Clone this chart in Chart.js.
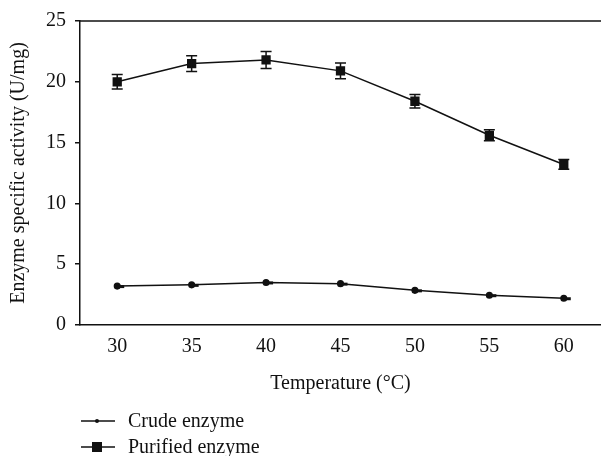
<!DOCTYPE html>
<html>
<head>
<meta charset="utf-8">
<script src="https://cdn.jsdelivr.net/npm/chart.js@4/dist/chart.umd.min.js"></script>
<style>
  html, body { margin: 0; padding: 0; background: #fff; }
  #wrap { width: 601px; height: 456px; }
</style>
</head>
<body>
<div id="wrap"><canvas id="c" width="601" height="456"></canvas></div>
<script>
/* ── data ── */
const temps       = [30, 35, 40, 45, 50, 55, 60];
const crude       = [3.2, 3.3, 3.5, 3.4, 2.85, 2.45, 2.2];
const purified    = [20.0, 21.5, 21.8, 20.9, 18.4, 15.6, 13.2];
const purifiedErr = [0.6, 0.65, 0.7, 0.65, 0.55, 0.45, 0.4];
const xTicks      = [30, 35, 40, 45, 50, 55, 60];
const yTicks      = [0, 5, 10, 15, 20, 25];

const FONT = '"Liberation Serif", "DejaVu Serif", serif';
const INK  = '#111';

Chart.defaults.font.family = FONT;
Chart.defaults.font.size   = 20;
Chart.defaults.color       = INK;

function pts(vals) {
  return temps.map((t, i) => ({ x: t, y: vals[i] }));
}

/* error bars, top frame line and the legend below the axis */
const extras = {
  id: 'extras',
  afterDatasetsDraw(chart) {
    const { ctx, scales: { x, y }, chartArea } = chart;
    ctx.save();
    ctx.strokeStyle = INK;
    ctx.fillStyle = INK;
    ctx.lineWidth = 1.5;
    // top frame line
    ctx.beginPath();
    ctx.moveTo(chartArea.left, chartArea.top);
    ctx.lineTo(chartArea.right, chartArea.top);
    ctx.stroke();
    // error bars on purified
    purified.forEach((v, i) => {
      const px = x.getPixelForValue(temps[i]);
      const hi = y.getPixelForValue(v + purifiedErr[i]);
      const lo = y.getPixelForValue(v - purifiedErr[i]);
      ctx.beginPath();
      ctx.moveTo(px, hi); ctx.lineTo(px, lo);
      ctx.moveTo(px - 5.5, hi); ctx.lineTo(px + 5.5, hi);
      ctx.moveTo(px - 5.5, lo); ctx.lineTo(px + 5.5, lo);
      ctx.stroke();
    });
    // crude points carry a small flat blob to the right of the dot
    crude.forEach((v, i) => {
      const px = x.getPixelForValue(temps[i]);
      const py = y.getPixelForValue(v);
      ctx.fillRect(px - 1, py - 1, 8, 3);
    });
    // legend
    ctx.font = '20px ' + FONT;
    ctx.textBaseline = 'middle';
    const rows = [['Crude enzyme', 'circle', 421], ['Purified enzyme', 'rect', 447]];
    rows.forEach(([label, shape, ly]) => {
      ctx.lineWidth = 1.3;
      ctx.beginPath();
      ctx.moveTo(81, ly); ctx.lineTo(115, ly);
      ctx.stroke();
      if (shape === 'circle') {
        ctx.beginPath(); ctx.arc(97, ly, 2, 0, Math.PI * 2); ctx.fill();
      } else {
        ctx.fillRect(92, ly - 5, 10, 10);
      }
      ctx.fillText(label, 128, ly + 1);
    });
    ctx.restore();
  }
};

new Chart(document.getElementById('c'), {
  type: 'line',
  data: {
    datasets: [
      {
        label: 'Crude enzyme',
        data: pts(crude),
        borderColor: INK,
        backgroundColor: INK,
        borderWidth: 1.5,
        pointStyle: 'circle',
        pointRadius: 2.8,
        tension: 0,
      },
      {
        label: 'Purified enzyme',
        data: pts(purified),
        borderColor: INK,
        backgroundColor: INK,
        borderWidth: 1.5,
        pointStyle: 'rect',
        pointRadius: 5.5,
        tension: 0,
      }
    ]
  },
  options: {
    responsive: false,
    animation: false,
    layout: { autoPadding: false, padding: { top: 21, left: 0, right: 0, bottom: 56 } },
    plugins: { legend: { display: false }, tooltip: { enabled: false } },
    scales: {
      x: {
        type: 'linear',
        min: 27.5, max: 62.5,
        afterBuildTicks: axis => { axis.ticks = xTicks.map(v => ({ value: v })); },
        afterFit: axis => { axis.height = 75; },
        grid: { display: false },
        border: { display: true, color: INK, width: 1.5 },
        ticks: { padding: 2, color: INK },
        title: { display: true, text: 'Temperature (°C)', color: INK },
      },
      y: {
        min: 0, max: 25,
        afterBuildTicks: axis => { axis.ticks = yTicks.map(v => ({ value: v })); },
        afterFit: axis => { axis.width = 80; },
        grid: { drawOnChartArea: false, tickLength: 5, color: INK, lineWidth: 1.5 },
        border: { display: true, color: INK, width: 1.5 },
        ticks: { padding: 9, color: INK },
        title: { display: true, text: 'Enzyme specific activity (U/mg)', color: INK, padding: { top: 7, bottom: 2 } },
      }
    }
  },
  plugins: [extras]
});
</script>
</body>
</html>
